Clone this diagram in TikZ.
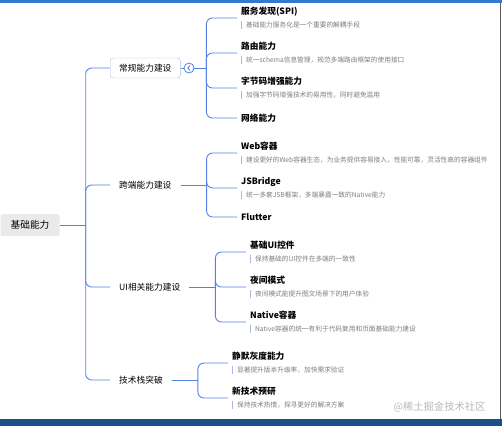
\documentclass[tikz,border=0pt]{standalone}
\usepackage{fontspec}
\setmainfont{Noto Sans CJK SC}
\usetikzlibrary{positioning}
\definecolor{linkblue}{RGB}{86,130,230}
\definecolor{descgray}{RGB}{125,125,125}
\definecolor{barblue}{RGB}{170,185,220}
\definecolor{rootgray}{RGB}{234,234,236}
\definecolor{boxline}{RGB}{170,190,235}
\definecolor{topbar}{RGB}{52,120,210}
\definecolor{botbar}{RGB}{28,78,140}
% title of a leaf
\newcommand{\ttl}[1]{{\fontsize{8.7}{10}\bfseries #1}}
% title with its note below
\newcommand{\leaf}[2]{\vbox{\baselineskip=13pt\lineskiplimit=-20pt
  \hbox{\ttl{#1}}%
  \hbox{{\color{barblue}\vrule width 0.9pt height 6.2pt depth 1.6pt}\hspace{4pt}%
    \fontsize{6.7}{8}\selectfont\color{descgray}#2}}}
\begin{document}
\begin{tikzpicture}[x=1pt, y=-1pt,
    link/.style={linkblue, line width=0.9pt, rounded corners=6pt},
    topic/.style={anchor=west, inner xsep=9pt, minimum height=20pt, font=\fontsize{8.7}{10}\selectfont},
    leaf/.style={anchor=west, inner xsep=4pt, inner ysep=0pt}]
  \useasboundingbox (0,0) rectangle (502,426);
  \fill[topbar] (0,0) rectangle (502,3);
  \fill[botbar] (0,419) rectangle (502,426);
  \draw[gray!70!black, line width=1pt] (500.5,3) -- (500.5,419);

  % root and main topics
  \node[fill=rootgray, rounded corners=2pt, minimum width=59pt, minimum height=22pt,
    font=\fontsize{9.7}{11}\selectfont] (root) at (30,225) {基础能力};
  \node[topic, draw=boxline, rounded corners=3pt, fill=white] (regular) at (110,68) {常规能力建设};
  \node[topic] (cross) at (110,185) {跨端能力建设};
  \node[topic] (ui) at (110,287) {UI相关能力建设};
  \node[topic] (stack) at (110,380) {技术栈突破};
  \node[circle, draw=linkblue, fill=white, line width=0.8pt, minimum size=10pt, inner sep=0pt,
    right=3pt of regular] (fold) {};
  \draw[linkblue, line width=0.8pt] (fold.center) ++(1.2,-2.5) -- ++(-2.5,2.5) -- ++(2.5,2.5);

  % leaves
  \node[leaf] (spi) at (237,18) {\leaf{服务发现(SPI)}{基础能力服务化是一个重要的解耦手段}};
  \node[leaf] (route) at (237,53) {\leaf{路由能力}{统一schema信息管理，规范多端路由框架的使用接口}};
  \node[leaf] (bytecode) at (237,88) {\leaf{字节码增强能力}{加强字节码增强技术的易用性，同时避免滥用}};
  \node[leaf] (network) at (237,118) {\ttl{网络能力}};
  \node[leaf] (web) at (237,153) {\leaf{Web容器}{建设更好的Web容器生态，为业务提供容易接入，性能可靠，灵活性高的容器组件}};
  \node[leaf] (jsb) at (237,188) {\leaf{JSBridge}{统一多套JSB框架，多端暴露一致的Native能力}};
  \node[leaf] (flutter) at (237,217) {\ttl{Flutter}};
  \node[leaf] (baseui) at (246,252) {\leaf{基础UI控件}{保持基础的UI控件在多端的一致性}};
  \node[leaf] (night) at (246,287) {\leaf{夜间模式}{夜间模式能提升图文场景下的用户体验}};
  \node[leaf] (native) at (246,322) {\leaf{Native容器}{Native容器的统一有利于代码复用和页面基础能力建设}};
  \node[leaf] (gray) at (228,363) {\leaf{静默灰度能力}{显著提升版本升级率，加快需求验证}};
  \node[leaf] (newtech) at (228,398) {\leaf{新技术预研}{保持技术热情，探寻更好的解决方案}};

  % trunks
  \coordinate[right=26pt of root] (t0);
  \coordinate[right=12pt of fold] (t1);
  \coordinate[right=26pt of cross] (t2);
  \coordinate[right=26pt of ui] (t3);
  \coordinate[right=26pt of stack] (t4);

  \draw[link] (root.east) -- (t0);
  \foreach \n in {regular,cross,ui,stack} \draw[link] (t0) |- (\n.west);
  \draw[link] (regular.east) -- (fold.west);
  \draw[link] (fold.east) -- (t1);
  \foreach \n in {spi,route,bytecode,network} \draw[link] (t1) |- (\n.west);
  \draw[link] (cross.east) -- (t2);
  \foreach \n in {web,jsb,flutter} \draw[link] (t2) |- (\n.west);
  \draw[link] (ui.east) -- (t3);
  \foreach \n in {baseui,night,native} \draw[link] (t3) |- (\n.west);
  \draw[link] (stack.east) -- (t4);
  \foreach \n in {gray,newtech} \draw[link] (t4) |- (\n.west);

  \node[anchor=east, text=gray!55, font=\fontsize{10.3}{12}\selectfont] (mark) at (489,407) {@稀土掘金技术社区};
\end{tikzpicture}
\end{document}
